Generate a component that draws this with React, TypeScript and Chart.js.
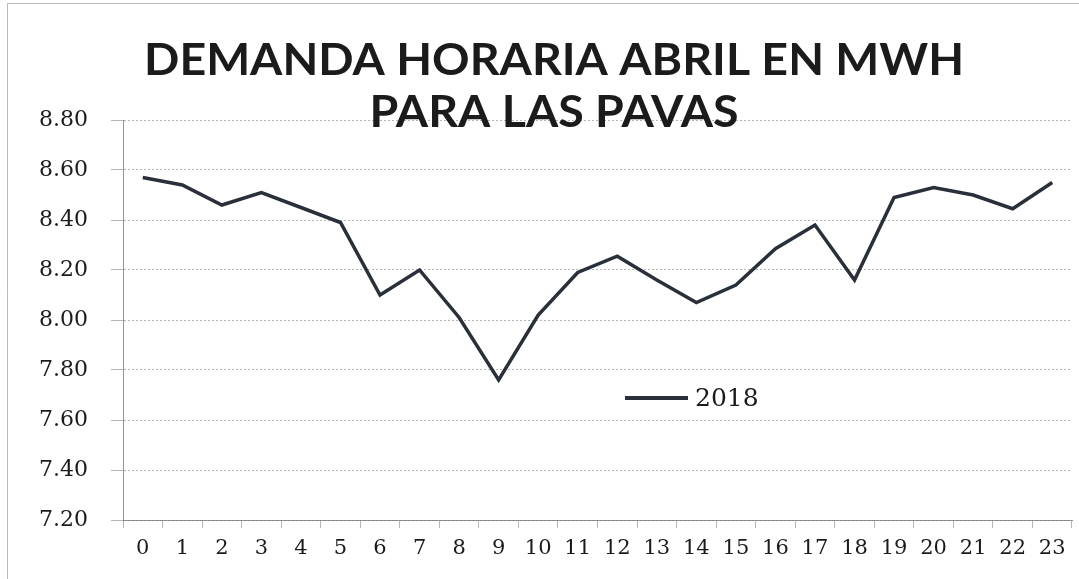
import React, { useEffect, useRef } from "react";
import { Chart, registerables } from "chart.js";

Chart.register(...registerables);

const titleLines = ["DEMANDA HORARIA ABRIL EN MWH", "PARA LAS PAVAS"];
const hours = ["0", "1", "2", "3", "4", "5", "6", "7", "8", "9", "10", "11", "12", "13", "14", "15", "16", "17", "18", "19", "20", "21", "22", "23"];
const seriesLabel = "2018";
const demand2018 = [8.57, 8.54, 8.46, 8.51, 8.45, 8.39, 8.10, 8.20, 8.01, 7.76, 8.02, 8.19, 8.255, 8.16, 8.07, 8.14, 8.285, 8.38, 8.16, 8.49, 8.53, 8.50, 8.445, 8.55];
const yMin = 7.2;
const yMax = 8.8;
const yStep = 0.2;

const LINE_COLOR = "#2a3039";
const GRID_COLOR = "rgba(110,110,110,0.5)";

const decorPlugin = {
  id: "decor",
  afterDraw(chart: any) {
    const ctx = chart.ctx as CanvasRenderingContext2D;
    const area = chart.chartArea;
    ctx.save();
    // faint page border
    ctx.strokeStyle = "rgba(140,140,140,0.6)";
    ctx.lineWidth = 1;
    ctx.beginPath();
    ctx.moveTo(7.5, 579);
    ctx.lineTo(7.5, 3.5);
    ctx.lineTo(1079, 3.5);
    ctx.stroke();

    // title (Calibri-like: slightly widened bold sans)
    ctx.fillStyle = "#1b1b1b";
    ctx.textAlign = "center";
    ctx.textBaseline = "alphabetic";
    ctx.font = "bold 43px Lato";
    const w0 = ctx.measureText(titleLines[0]).width;
    const sx = 820 / w0;
    ctx.save();
    ctx.translate(554, 0);
    ctx.scale(sx, 1);
    ctx.fillText(titleLines[0], 0, 75);
    ctx.fillText(titleLines[1], 0, 127);
    ctx.restore();

    // legend inside plot
    const lx = area.left + 502;
    const ly = area.top + 278;
    ctx.strokeStyle = LINE_COLOR;
    ctx.lineWidth = 4;
    ctx.beginPath();
    ctx.moveTo(lx, ly);
    ctx.lineTo(lx + 63, ly);
    ctx.stroke();
    ctx.fillStyle = "#1b1b1b";
    ctx.textAlign = "left";
    ctx.textBaseline = "middle";
    ctx.font = "25px 'DejaVu Serif'";
    ctx.fillText(seriesLabel, lx + 70, ly + 1);
    ctx.restore();
  },
};

export default function App() {
  const canvasRef = useRef<HTMLCanvasElement | null>(null);

  useEffect(() => {
    document.body.style.margin = "0";
    const canvas = canvasRef.current;
    if (!canvas) return;
    const chart = new Chart(canvas, {
      type: "line",
      data: {
        labels: hours,
        datasets: [
          {
            label: seriesLabel,
            data: demand2018,
            borderColor: LINE_COLOR,
            borderWidth: 3.5,
            pointRadius: 0,
            tension: 0,
            fill: false,
          },
        ],
      },
      options: {
        responsive: false,
        animation: false,
        layout: { padding: { top: 120, right: 7, bottom: 0, left: 0 } },
        plugins: {
          legend: { display: false },
          title: { display: false },
          tooltip: { enabled: false },
        },
        scales: {
          x: {
            type: "category",
            offset: true,
            afterFit: (scale: any) => {
              scale.height = 59;
            },
            grid: {
              display: true,
              drawOnChartArea: false,
              drawTicks: true,
              tickLength: 8,
              offset: true,
              color: GRID_COLOR,
            },
            border: { display: true, color: "rgba(120,120,120,0.8)", width: 1 },
            ticks: {
              color: "#1b1b1b",
              padding: 8,
              maxRotation: 0,
              autoSkip: false,
              font: { family: "'DejaVu Serif'", size: 21 },
            },
          },
          y: {
            min: yMin,
            max: yMax,
            afterFit: (scale: any) => {
              scale.width = 123;
            },
            grid: {
              color: GRID_COLOR,
              drawTicks: true,
              tickLength: 12,
              lineWidth: 1,
            },
            border: { display: true, color: "rgba(120,120,120,0.8)", width: 1, dash: [2, 2] },
            ticks: {
              stepSize: yStep,
              padding: 23,
              color: "#1b1b1b",
              font: { family: "'DejaVu Serif'", size: 22 },
              callback: (v: any) => Number(v).toFixed(2),
            },
          },
        },
      } as any,
      plugins: [decorPlugin],
    });
    (chart.options.scales as any).y.grid.borderDash = [2, 2];
    chart.update();
    return () => chart.destroy();
  }, []);

  return (
    <div style={{ position: "absolute", left: 0, top: 0, width: 1079, height: 579, background: "#fff" }}>
      <canvas ref={canvasRef} width={1079} height={579} />
    </div>
  );
}
